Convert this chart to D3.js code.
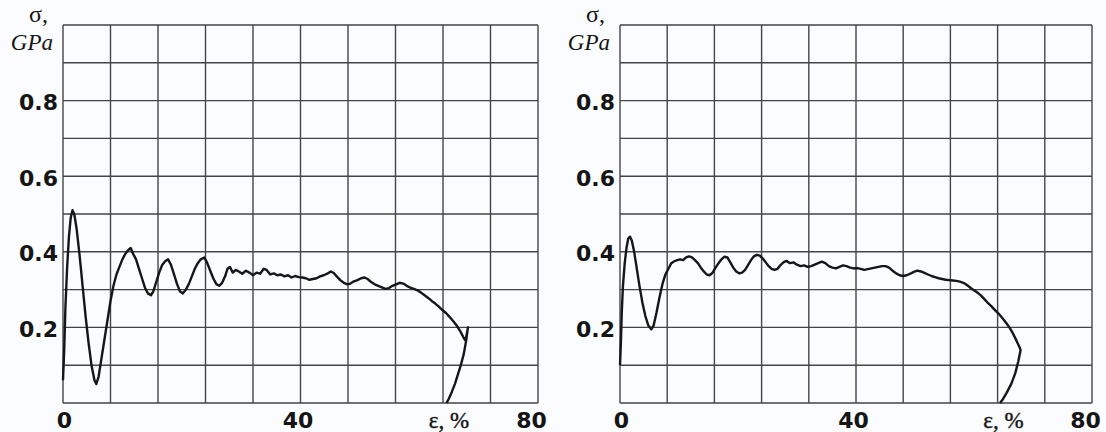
<!DOCTYPE html>
<html>
<head>
<meta charset="utf-8">
<script src="https://cdn.jsdelivr.net/npm/d3@7"></script>
<style>
  body{margin:0;background:#fafcfd;}
  svg{display:block;}
  .tick text{font-family:"DejaVu Sans",sans-serif;font-weight:bold;font-size:22px;fill:#151515;}
  .lbl{font-family:"Liberation Serif",serif;fill:#151515;}
</style>
</head>
<body>
<svg width="1106" height="432"></svg>
<script>
// sample A (left) : strain %, stress GPa
const strainA=[0,0.2,0.4,0.7,1.0,1.3,1.6,1.9,2.3,2.8,3.3,3.8,4.3,4.8,5.3,5.6,6.0,6.5,7.0,7.5,8.0,8.5,9.0,9.5,10.0,10.5,11.0,11.4,11.8,12.3,12.8,13.3,13.8,14.3,14.8,15.2,15.7,16.2,16.7,17.2,17.7,18.2,18.7,19.2,19.7,20.2,20.7,21.2,21.7,22.2,22.7,23.2,23.8,24.3,24.8,25.3,25.8,26.3,26.8,27.3,27.7,28.1,28.6,29.1,29.6,30.2,30.8,31.4,32.0,32.6,33.2,33.8,34.3,34.9,35.5,36.1,36.7,37.3,37.9,38.5,39.1,39.7,40.3,40.9,41.5,42.1,42.7,43.3,43.9,44.5,45.1,45.6,46.1,46.7,47.3,47.9,48.4,49.0,49.6,50.2,50.8,51.3,51.9,52.5,53.1,53.7,54.3,54.9,55.5,56.1,56.7,57.3,57.9,58.5,59.1,59.7,60.3,60.9,61.5,62.1,62.7,63.3,63.9,64.5,65.1,65.7,66.3,66.9,67.5,67.8,68.2,67.9,67.5,67.0,66.5,66.0,65.5,65.0,64.6];
const stressA=[0.06,0.14,0.25,0.36,0.44,0.49,0.51,0.50,0.46,0.39,0.31,0.23,0.16,0.10,0.06,0.05,0.07,0.12,0.17,0.22,0.27,0.31,0.34,0.36,0.38,0.395,0.405,0.41,0.395,0.38,0.355,0.33,0.305,0.29,0.285,0.295,0.32,0.345,0.365,0.375,0.38,0.365,0.34,0.315,0.295,0.29,0.30,0.315,0.335,0.355,0.37,0.38,0.385,0.37,0.35,0.33,0.315,0.31,0.318,0.335,0.355,0.36,0.345,0.352,0.348,0.342,0.35,0.345,0.338,0.345,0.342,0.355,0.352,0.34,0.343,0.338,0.34,0.335,0.338,0.332,0.336,0.333,0.332,0.33,0.326,0.328,0.33,0.335,0.338,0.342,0.348,0.344,0.335,0.325,0.318,0.314,0.316,0.322,0.325,0.33,0.332,0.328,0.32,0.314,0.31,0.306,0.302,0.304,0.31,0.314,0.318,0.316,0.31,0.305,0.302,0.298,0.292,0.285,0.278,0.27,0.263,0.255,0.246,0.238,0.228,0.217,0.205,0.19,0.172,0.165,0.2,0.165,0.13,0.1,0.075,0.05,0.03,0.012,0.0];

// sample B (right)
const strainB=[0,0.15,0.3,0.5,0.8,1.1,1.4,1.7,2.0,2.4,2.8,3.3,3.8,4.3,4.8,5.3,5.7,6.2,6.7,7.2,7.7,8.2,8.7,9.2,9.7,10.2,10.7,11.2,11.7,12.2,12.7,13.2,13.7,14.2,14.7,15.2,15.7,16.2,16.7,17.2,17.7,18.2,18.7,19.2,19.7,20.2,20.7,21.2,21.7,22.2,22.7,23.2,23.7,24.2,24.7,25.2,25.7,26.2,26.7,27.2,27.7,28.2,28.8,29.4,30.0,30.6,31.2,31.8,32.4,33.0,33.6,34.2,34.8,35.4,36.0,36.6,37.2,37.8,38.4,39.0,39.6,40.2,40.8,41.4,42.0,42.6,43.2,43.8,44.4,45.0,45.6,46.2,46.8,47.4,48.0,48.6,49.2,49.8,50.4,51.0,51.6,52.2,52.8,53.4,54.0,54.6,55.2,55.8,56.4,57.0,57.6,58.2,58.8,59.4,60.0,60.6,61.2,61.8,62.4,63.0,63.6,64.2,64.8,65.4,66.0,66.6,67.2,67.7,67.9,67.5,67.0,66.3,65.5,64.9,64.4];
const stressB=[0.10,0.16,0.24,0.31,0.37,0.41,0.435,0.44,0.43,0.40,0.36,0.31,0.265,0.23,0.205,0.195,0.205,0.24,0.28,0.315,0.34,0.355,0.37,0.375,0.378,0.38,0.378,0.385,0.388,0.385,0.378,0.37,0.358,0.348,0.34,0.338,0.345,0.358,0.37,0.38,0.387,0.385,0.372,0.358,0.348,0.343,0.345,0.352,0.365,0.378,0.388,0.392,0.39,0.382,0.372,0.362,0.355,0.352,0.355,0.365,0.372,0.376,0.37,0.372,0.366,0.362,0.364,0.36,0.362,0.366,0.37,0.374,0.37,0.362,0.358,0.356,0.36,0.364,0.362,0.358,0.356,0.357,0.355,0.352,0.354,0.356,0.358,0.36,0.362,0.362,0.358,0.35,0.343,0.338,0.336,0.338,0.342,0.347,0.35,0.348,0.344,0.34,0.336,0.333,0.33,0.328,0.326,0.325,0.324,0.323,0.321,0.318,0.312,0.305,0.298,0.292,0.284,0.274,0.264,0.255,0.245,0.236,0.225,0.213,0.2,0.184,0.165,0.148,0.14,0.11,0.079,0.05,0.026,0.01,0.0];

const xTicks=[0,40,80];
const yTicks=[0.2,0.4,0.6,0.8];

const svg=d3.select('svg');
const plotTop=25, plotBottom=403;

function panel(x0,x1,strain,stress){
  const x=d3.scaleLinear().domain([0,80]).range([x0,x1]);
  const y=d3.scaleLinear().domain([0,1]).range([plotBottom,plotTop]);
  const g=svg.append('g');

  // grid
  g.selectAll('.vg').data(d3.range(0,81,8)).enter().append('line')
    .attr('x1',d=>x(d)).attr('x2',d=>x(d)).attr('y1',plotTop).attr('y2',plotBottom)
    .attr('stroke','#454545').attr('stroke-width',1.4);
  g.selectAll('.hg').data(d3.range(0,11)).enter().append('line')
    .attr('x1',x0).attr('x2',x1).attr('y1',d=>y(d/10)).attr('y2',d=>y(d/10))
    .attr('stroke','#454545').attr('stroke-width',1.4);

  // axes (labels only)
  g.append('g').attr('transform',`translate(${x0},0)`)
    .call(d3.axisLeft(y).tickValues(yTicks).tickSize(0).tickPadding(5).tickFormat(d3.format('.1f')))
    .call(a=>a.select('.domain').remove())
    .call(a=>a.selectAll('.tick text').attr('y',2));
  g.append('g').attr('transform',`translate(0,${plotBottom})`)
    .call(d3.axisBottom(x).tickValues(xTicks).tickSize(0).tickPadding(9).tickFormat(d3.format('d')))
    .call(a=>a.select('.domain').remove())
    .call(a=>a.selectAll('.tick text').attr('dx',d=>d===80?-7:(d===40?-3:1)));

  // curve
  const pts=strain.map((s,i)=>[s,stress[i]]);
  g.append('path').datum(pts)
    .attr('fill','none').attr('stroke','#161616').attr('stroke-width',2.4)
    .attr('stroke-linejoin','round')
    .attr('d',d3.line().x(d=>x(d[0])).y(d=>y(d[1])));

  // axis titles
  g.append('text').attr('class','lbl').attr('x',x0-15).attr('y',22)
    .attr('text-anchor','end').attr('font-size',24).text('σ,');
  g.append('text').attr('class','lbl').attr('x',x0-10).attr('y',50)
    .attr('text-anchor','end').attr('font-size',23).attr('font-style','italic').text('GPa');
  g.append('text').attr('class','lbl').attr('x',x(65)).attr('y',428)
    .attr('text-anchor','middle').attr('font-size',23)
    .attr('stroke','#151515').attr('stroke-width',0.4).text('ε, %');
}

panel(63,538,strainA,stressA);
panel(620,1092,strainB,stressB);
</script>
</body>
</html>
